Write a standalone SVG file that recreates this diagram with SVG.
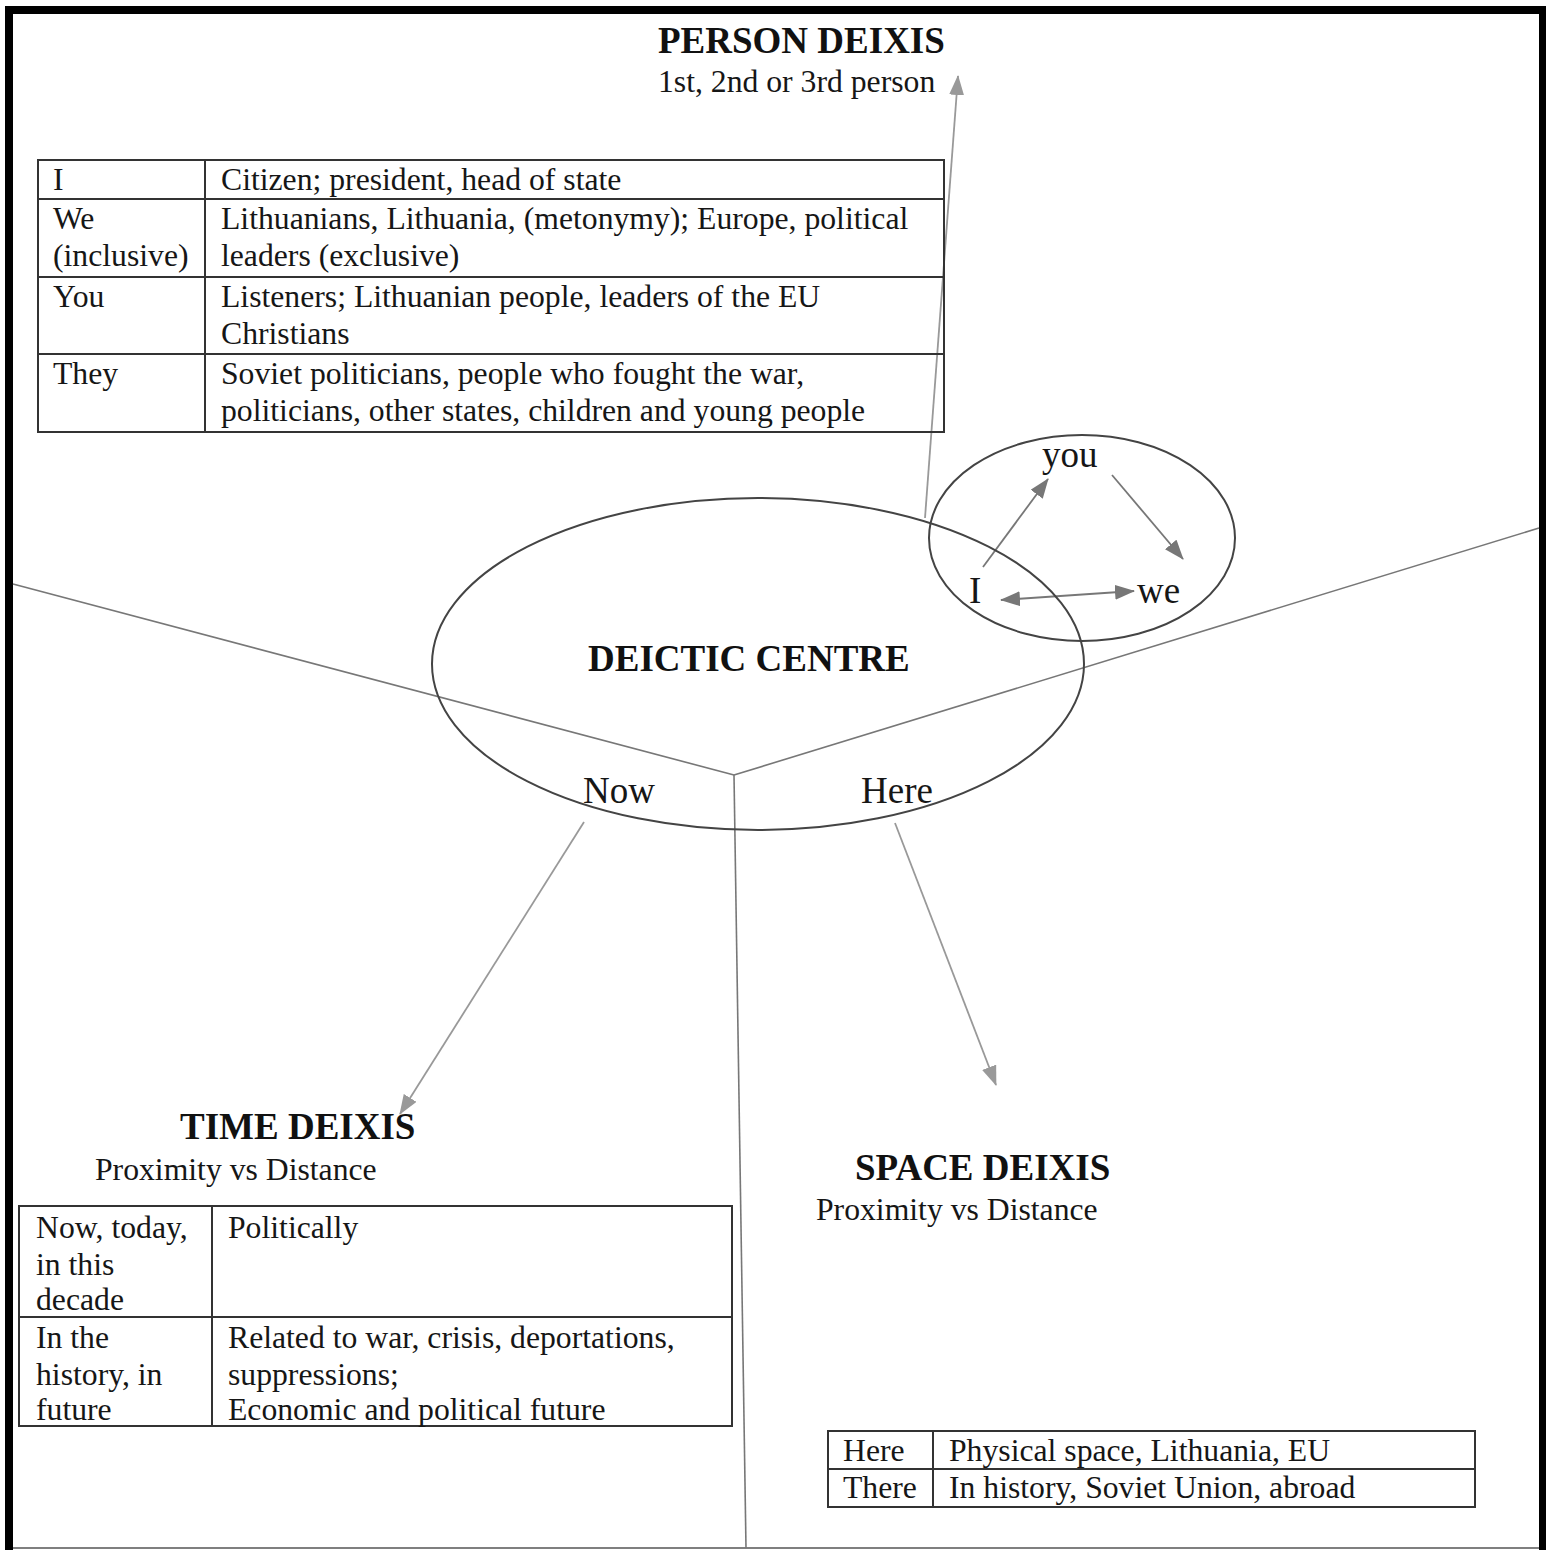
<svg xmlns="http://www.w3.org/2000/svg" width="1546" height="1550" viewBox="0 0 1546 1550">
<style>
.t{font-family:"Liberation Serif","Times New Roman",serif;font-size:31.7px;fill:#161616}
.b{font-family:"Liberation Serif","Times New Roman",serif;font-size:37px;font-weight:bold;fill:#111}
.m{font-family:"Liberation Serif","Times New Roman",serif;font-size:37px;fill:#161616}
.tbl{fill:none;stroke:#333;stroke-width:2}
.ell{fill:none;stroke:#444;stroke-width:2}
.ray{stroke:#777;stroke-width:1.6;fill:none}
.arr{stroke:#999;stroke-width:1.8;fill:none}
.arr2{stroke:#777;stroke-width:1.8;fill:none}
</style>
<defs>
<marker id="ah2" refX="19" refY="7.5" markerWidth="20" markerHeight="15" markerUnits="userSpaceOnUse" orient="auto-start-reverse">
<path d="M0,0 L20,7.5 L0,15 z" fill="#777"/>
</marker>
<marker id="ah3" refX="19" refY="7.5" markerWidth="20" markerHeight="15" markerUnits="userSpaceOnUse" orient="auto">
<path d="M0,0 L20,7.5 L0,15 z" fill="#999"/>
</marker>
</defs>
<rect width="1546" height="1550" fill="#fff"/>
<g id="frame">
<rect x="5" y="6" width="1541" height="8" fill="#000"/>
<rect x="5" y="6" width="8" height="1544" fill="#000"/>
<rect x="1539" y="6" width="7" height="1544" fill="#000"/>
<line x1="13" y1="1548" x2="1539" y2="1548" stroke="#555" stroke-width="1.5"/>
</g>
<g id="connectors">
<line class="ray" x1="13" y1="584" x2="734" y2="775"/>
<line class="ray" x1="734" y1="775" x2="1539" y2="528"/>
<line class="ray" x1="734" y1="775" x2="746" y2="1548"/>
<line class="arr" x1="925" y1="518" x2="958" y2="76" marker-end="url(#ah3)"/>
<line class="arr" x1="584" y1="822" x2="400" y2="1114" marker-end="url(#ah3)"/>
<line class="arr" x1="895" y1="823" x2="996" y2="1085" marker-end="url(#ah3)"/>
<line class="arr2" x1="983" y1="567" x2="1048" y2="479" marker-end="url(#ah2)"/>
<line class="arr2" x1="1112" y1="475" x2="1183" y2="559" marker-end="url(#ah2)"/>
<line class="arr2" x1="1001" y1="600" x2="1134" y2="591" marker-start="url(#ah2)" marker-end="url(#ah2)"/>
</g>
<g id="person-deixis">
<text class="b" x="658" y="53">PERSON DEIXIS</text>
<text class="t" x="658" y="92">1st, 2nd or 3rd person</text>
</g>
<g id="person-table">
<rect class="tbl" x="38" y="160" width="906" height="272"/>
<line class="tbl" x1="205" y1="160" x2="205" y2="432"/>
<line class="tbl" x1="38" y1="199" x2="944" y2="199"/>
<line class="tbl" x1="38" y1="277" x2="944" y2="277"/>
<line class="tbl" x1="38" y1="354" x2="944" y2="354"/>
<text class="t" x="53" y="190">I</text>
<text class="t" x="221" y="190">Citizen; president, head of state</text>
<text class="t" x="53" y="229">We</text>
<text class="t" x="53" y="266">(inclusive)</text>
<text class="t" x="221" y="229">Lithuanians, Lithuania, (metonymy); Europe, political</text>
<text class="t" x="221" y="266">leaders (exclusive)</text>
<text class="t" x="53" y="307">You</text>
<text class="t" x="221" y="307">Listeners; Lithuanian people, leaders of the EU</text>
<text class="t" x="221" y="344">Christians</text>
<text class="t" x="53" y="384">They</text>
<text class="t" x="221" y="384">Soviet politicians, people who fought the war,</text>
<text class="t" x="221" y="421">politicians, other states, children and young people</text>
</g>
<g id="deictic-centre">
<ellipse class="ell" cx="758" cy="664" rx="326" ry="166"/>
<text class="b" x="588" y="671">DEICTIC CENTRE</text>
<text class="m" x="583" y="803">Now</text>
<text class="m" x="861" y="803">Here</text>
</g>
<g id="person-cycle">
<ellipse class="ell" cx="1082" cy="538" rx="153" ry="103"/>
<text class="m" x="1042" y="467">you</text>
<text class="m" x="969" y="603">I</text>
<text class="m" x="1137" y="603">we</text>
</g>
<g id="time-deixis">
<text class="b" x="180" y="1139">TIME DEIXIS</text>
<text class="t" x="95" y="1180">Proximity vs Distance</text>
</g>
<g id="time-table">
<rect class="tbl" x="19" y="1206" width="713" height="220"/>
<line class="tbl" x1="212" y1="1206" x2="212" y2="1426"/>
<line class="tbl" x1="19" y1="1317" x2="732" y2="1317"/>
<text class="t" x="36" y="1238">Now, today,</text>
<text class="t" x="36" y="1275">in this</text>
<text class="t" x="36" y="1310">decade</text>
<text class="t" x="228" y="1238">Politically</text>
<text class="t" x="36" y="1348">In the</text>
<text class="t" x="36" y="1385">history, in</text>
<text class="t" x="36" y="1420">future</text>
<text class="t" x="228" y="1348">Related to war, crisis, deportations,</text>
<text class="t" x="228" y="1385">suppressions;</text>
<text class="t" x="228" y="1420">Economic and political future</text>
</g>
<g id="space-deixis">
<text class="b" x="855" y="1180">SPACE DEIXIS</text>
<text class="t" x="816" y="1220">Proximity vs Distance</text>
</g>
<g id="space-table">
<rect class="tbl" x="828" y="1431" width="647" height="76"/>
<line class="tbl" x1="933" y1="1431" x2="933" y2="1507"/>
<line class="tbl" x1="828" y1="1469" x2="1475" y2="1469"/>
<text class="t" x="843" y="1461">Here</text>
<text class="t" x="949" y="1461">Physical space, Lithuania, EU</text>
<text class="t" x="843" y="1498">There</text>
<text class="t" x="949" y="1498">In history, Soviet Union, abroad</text>
</g>
</svg>
